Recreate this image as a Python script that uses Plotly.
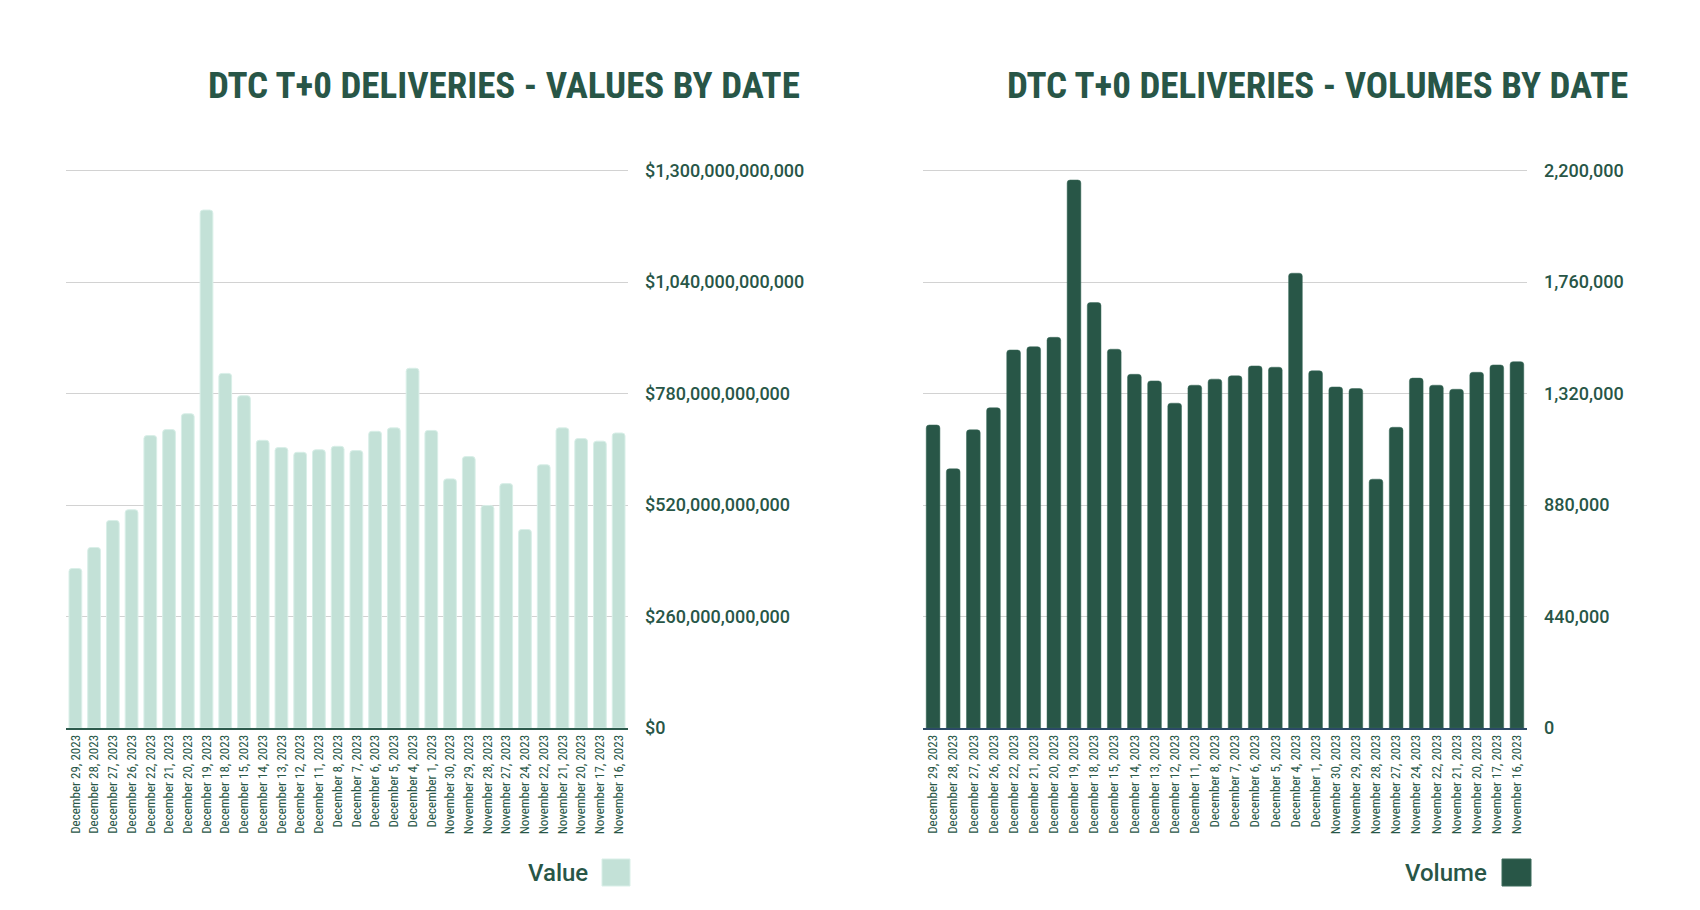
import plotly.graph_objects as go

dates = [
    "December 29, 2023", "December 28, 2023", "December 27, 2023", "December 26, 2023",
    "December 22, 2023", "December 21, 2023", "December 20, 2023", "December 19, 2023",
    "December 18, 2023", "December 15, 2023", "December 14, 2023", "December 13, 2023",
    "December 12, 2023", "December 11, 2023", "December 8, 2023", "December 7, 2023",
    "December 6, 2023", "December 5, 2023", "December 4, 2023", "December 1, 2023",
    "November 30, 2023", "November 29, 2023", "November 28, 2023", "November 27, 2023",
    "November 24, 2023", "November 22, 2023", "November 21, 2023", "November 20, 2023",
    "November 17, 2023", "November 16, 2023",
]

values = [
    372e9, 421e9, 484e9, 509e9, 682e9, 696e9, 733e9, 1208e9, 827e9, 775e9,
    671e9, 654e9, 643e9, 649e9, 657e9, 647e9, 692e9, 700e9, 839e9, 694e9,
    581e9, 633e9, 519e9, 570e9, 463e9, 614e9, 700e9, 675e9, 669e9, 688e9,
]

volumes = [
    1196000, 1023000, 1177000, 1264000, 1492000, 1505000, 1542000, 2163000, 1679000, 1495000,
    1396000, 1370000, 1282000, 1353000, 1377000, 1390000, 1429000, 1424000, 1795000, 1410000,
    1346000, 1340000, 982000, 1187000, 1381000, 1353000, 1337000, 1404000, 1433000, 1446000,
]

value_ticks = [0, 260e9, 520e9, 780e9, 1040e9, 1300e9]
volume_ticks = [0, 440000, 880000, 1320000, 1760000, 2200000]

titles = ["DTC T+0 DELIVERIES - VALUES BY DATE", "DTC T+0 DELIVERIES - VOLUMES BY DATE"]
legend_names = ["Value", "Volume"]

DARK = "#285647"
LIGHT = "#c3e1d7"
TEXT = "#285647"
W, H = 1700, 910
OFF = 8  # page body margin compensation


def px(x):
    return (x - OFF) / W


def py(y):
    return 1 - (y - OFF) / H


fig = go.Figure()
fig.add_trace(go.Bar(x=dates, y=values, name=legend_names[0],
                     marker=dict(color=LIGHT, line=dict(color="#d9efe8", width=1)),
                     xaxis="x", yaxis="y", showlegend=False))
fig.add_trace(go.Bar(x=dates, y=volumes, name=legend_names[1],
                     marker=dict(color=DARK, line=dict(color="#3a6a5b", width=0.5)),
                     xaxis="x2", yaxis="y2", showlegend=False))

ydom = [py(728), py(169.5)]
tickfont_x = dict(family="Liberation Sans Narrow, Arial Narrow, Roboto Condensed, sans-serif", size=13, color=TEXT)
tickfont_y = dict(family="Roboto, sans-serif", size=18, color=TEXT, weight=500)

common_x = dict(type="category", tickangle=-90, tickfont=tickfont_x, showgrid=False, showline=True,
                linewidth=1.5, ticks="", fixedrange=True, automargin=False)
common_y = dict(side="right", showgrid=True, gridcolor="#d2d2d2", gridwidth=1.3, zeroline=False,
                tickfont=tickfont_y, ticks="", showline=False, ticklabelstandoff=16, automargin=False)

fig.update_layout(
    width=W, height=H,
    margin=dict(l=0, r=0, t=0, b=0, pad=0, autoexpand=False),
    paper_bgcolor="white", plot_bgcolor="white",
    bargap=0.32, barcornerradius=3,
    xaxis=dict(domain=[px(66), px(628)], anchor="y", linecolor="#2d5a4c", **common_x),
    yaxis=dict(domain=ydom, anchor="x", range=[0, 1.3e12 * 1.002], tickvals=value_ticks,
               tickformat="$,.0f", **common_y),
    xaxis2=dict(domain=[px(923), px(1527)], anchor="y2", linecolor="#2c4a66", **common_x),
    yaxis2=dict(domain=ydom, anchor="x2", range=[0, 2.2e6 * 1.002], tickvals=volume_ticks,
                tickformat=",.0f", **common_y),
)

title_font = dict(family="Liberation Sans Narrow, Arial Narrow, Roboto Condensed, sans-serif",
                  size=37, color=TEXT, weight=700)
for tx, right in zip(titles, [802, 1630]):
    fig.add_annotation(text=tx, xref="paper", yref="paper", x=px(right), y=py(85),
                       xanchor="right", yanchor="middle", showarrow=False, font=title_font)

leg_font = dict(family="Roboto, sans-serif", size=24, color=TEXT, weight=500)
for name, (sx0, sx1), tx_right, col, lcol in zip(legend_names, [(602, 630), (1502, 1531)], [590, 1489],
                                               [LIGHT, DARK], ["#d9efe8", "#3a6a5b"]):
    fig.add_shape(type="rect", xref="paper", yref="paper", x0=px(sx0), x1=px(sx1),
                  y0=py(886), y1=py(859), fillcolor=col, line=dict(color=lcol, width=1))
    fig.add_annotation(text=name, xref="paper", yref="paper", x=px(tx_right), y=py(873),
                       xanchor="right", yanchor="middle", showarrow=False, font=leg_font)

fig.write_html("out.html")
